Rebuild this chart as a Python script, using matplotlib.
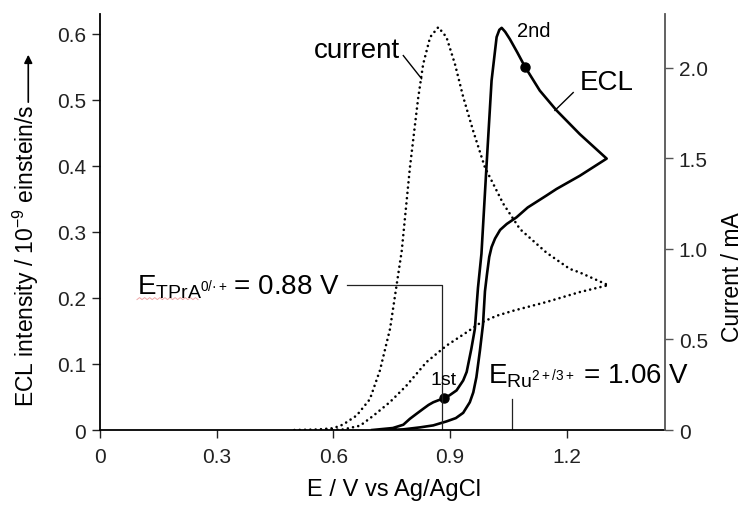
import matplotlib.pyplot as plt

plt.rcParams['font.family'] = ['Liberation Sans', 'DejaVu Sans']
plt.rcParams['mathtext.fontset'] = 'custom'
plt.rcParams['mathtext.rm'] = 'Liberation Sans'
plt.rcParams['mathtext.it'] = 'Liberation Sans:italic'
plt.rcParams['mathtext.bf'] = 'Liberation Sans:bold'

# ECL intensity (10^-9 einstein/s) vs potential (V vs Ag/AgCl)
ecl_fwd_e = [0.700, 0.753, 0.780, 0.797, 0.815, 0.831, 0.845, 0.857, 0.870, 0.885,
             0.900, 0.917, 0.934, 0.943, 0.955, 0.964, 0.972, 0.981, 0.994, 1.007,
             1.020, 1.027, 1.033, 1.042, 1.054, 1.073, 1.093, 1.131, 1.174, 1.234,
             1.303]
ecl_fwd_i = [0.000, 0.003, 0.008, 0.017, 0.025, 0.032, 0.038, 0.042, 0.045, 0.048,
             0.053, 0.060, 0.075, 0.088, 0.123, 0.153, 0.215, 0.267, 0.400, 0.529,
             0.595, 0.606, 0.609, 0.603, 0.592, 0.572, 0.550, 0.514, 0.484, 0.448,
             0.411]
ecl_rev_e = [1.234, 1.174, 1.148, 1.100, 1.071, 1.046, 1.029, 1.016, 1.007, 1.001,
             0.995, 0.990, 0.985, 0.977, 0.968, 0.960, 0.951, 0.934, 0.915, 0.891,
             0.857, 0.823, 0.780, 0.740]
ecl_rev_i = [0.385, 0.365, 0.355, 0.337, 0.322, 0.312, 0.303, 0.290, 0.277, 0.262,
             0.235, 0.210, 0.160, 0.120, 0.080, 0.057, 0.042, 0.026, 0.018, 0.013,
             0.007, 0.004, 0.001, 0.000]

# current (mA)
cur_fwd_e = [0.500, 0.560, 0.600, 0.625, 0.660, 0.694, 0.720, 0.746, 0.776, 0.797,
             0.818, 0.831, 0.849, 0.870, 0.891, 0.913, 0.934, 0.960, 0.990, 1.037,
             1.080, 1.148, 1.208, 1.234, 1.307]
cur_fwd_i = [0.000, 0.003, 0.010, 0.030, 0.080, 0.170, 0.330, 0.560, 0.990, 1.450,
             1.830, 2.020, 2.170, 2.225, 2.170, 2.020, 1.840, 1.650, 1.450, 1.250,
             1.110, 0.980, 0.890, 0.870, 0.800]
cur_rev_e = [1.234, 1.148, 1.063, 1.020, 0.977, 0.943, 0.891, 0.840, 0.788, 0.746,
             0.703, 0.669, 0.625, 0.580]
cur_rev_i = [0.762, 0.707, 0.659, 0.631, 0.590, 0.540, 0.466, 0.376, 0.245, 0.155,
             0.079, 0.024, 0.003, 0.000]

ecl_e = ecl_fwd_e + ecl_rev_e
ecl_i = ecl_fwd_i + ecl_rev_i
cur_e = cur_fwd_e + cur_rev_e
cur_i = cur_fwd_i + cur_rev_i

# marked points on the forward ECL scan
first_wave = ecl_fwd_e.index(0.885)
second_wave = ecl_fwd_e.index(1.093)

e_tpra = 0.88
e_ru = 1.06

fig = plt.figure(figsize=(7.47, 5.06), dpi=100)
ax = fig.add_axes([0.1339, 0.1482, 0.7563, 0.8222])
ax2 = ax.twinx()

ax.plot(ecl_e, ecl_i, color='black', lw=1.9, solid_joinstyle='round',
        marker='o', markevery=[first_wave, second_wave], ms=6.5)
ax2.plot(cur_e, cur_i, color='black', lw=1.9, linestyle=(0, (0.01, 2.0)),
         dash_capstyle='round')

ax.set_xlim(0, 1.453)
ax.set_ylim(0, 0.630)
ax2.set_ylim(0, 2.298)

ax.set_xticks([0, 0.3, 0.6, 0.9, 1.2])
ax.set_xticklabels(['0', '0.3', '0.6', '0.9', '1.2'])
ax.set_yticks([0, 0.1, 0.2, 0.3, 0.4, 0.5, 0.6])
ax.set_yticklabels(['0', '0.1', '0.2', '0.3', '0.4', '0.5', '0.6'])
ax2.set_yticks([0, 0.5, 1.0, 1.5, 2.0])
ax2.set_yticklabels(['0', '0.5', '1.0', '1.5', '2.0'])

for a in (ax, ax2):
    a.spines['top'].set_visible(False)
    a.tick_params(labelsize=15, length=6, width=1.0, pad=4, colors='#222222')
ax2.spines['left'].set_visible(False)
ax2.spines['bottom'].set_visible(False)
ax.spines['right'].set_visible(False)
ax.spines['left'].set_linewidth(1.3)
ax.spines['bottom'].set_linewidth(1.3)
ax2.spines['right'].set_linewidth(1.3)
ax2.spines['right'].set_color('#555555')
ax2.tick_params(axis='y', colors='#555555', labelcolor='#222222')
ax.tick_params(axis='x', pad=6)

ax.set_xlabel('E / V vs Ag/AgCl', fontsize=17)
ax.xaxis.set_label_coords(0.52, -0.142)
ax.xaxis.label.set_va('center')
ax.set_ylabel(r'ECL intensity / 10$^{-9}$ einstein/s', fontsize=16.5)
ax.yaxis.set_label_coords(-0.131, 0.421)
ax.yaxis.label.set_va('center')
ax2.set_ylabel('Current / mA', fontsize=16.5, rotation=90)
ax2.yaxis.set_label_coords(1.119, 0.37)
ax2.yaxis.label.set_va('center')

# arrow after the left axis label
ax.annotate('', xy=(-0.127, 0.902), xytext=(-0.127, 0.788), xycoords='axes fraction',
            arrowprops=dict(arrowstyle='-|>', lw=1.2, color='black', mutation_scale=12,
                            shrinkA=0, shrinkB=0), annotation_clip=False)

# curve labels
ax.text(0.549, 0.565, 'current', fontsize=20, ha='left', va='baseline')
ax.plot([0.780, 0.827], [0.567, 0.532], color='black', lw=1.0)
ax.text(1.234, 0.517, 'ECL', fontsize=20, ha='left', va='baseline')
ax.plot([1.217, 1.170], [0.511, 0.484], color='black', lw=1.0)
ax.text(1.072, 0.597, '2nd', fontsize=14.5, ha='left', va='baseline')
ax.text(0.849, 0.0697, '1st', fontsize=14, ha='left', va='baseline')

# redox potential markers
ax.text(0.095, 0.206, r'$\mathrm{E_{TPrA^{0/·+}}}\,$= 0.88 V', fontsize=20,
        ha='left', va='baseline')
ax.plot([0.635, e_tpra, e_tpra], [0.22, 0.22, 0], color='#222222', lw=0.9)
ax.text(0.998, 0.0727, r'$\mathrm{E_{Ru^{2+/3+}}}\;$= 1.06 V', fontsize=20,
        ha='left', va='baseline')
ax.plot([e_ru, e_ru], [0, 0.047], color='#222222', lw=0.9)

# faint wavy underline beneath the subscript
n_wave = 24
wave_x = [0.095 + k * (0.252 - 0.095) / n_wave for k in range(n_wave + 1)]
wave_y = [0.199 + (0.0015 if k % 2 else -0.0015) for k in range(n_wave + 1)]
ax.plot(wave_x, wave_y, color='#e06060', lw=0.7, alpha=0.55)

fig.savefig('out.png', dpi=100)
